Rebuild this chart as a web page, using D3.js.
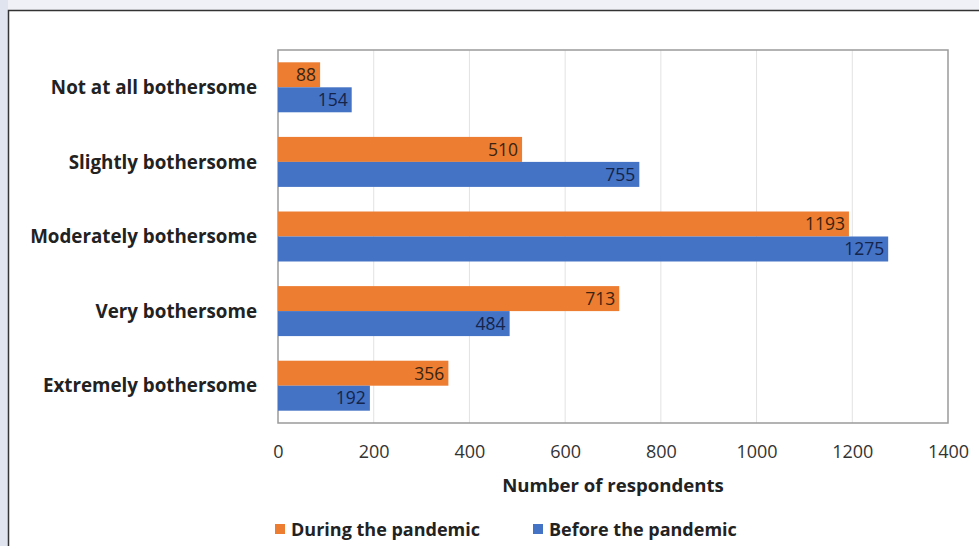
<!DOCTYPE html>
<html>
<head>
<meta charset="utf-8">
<script src="https://cdn.jsdelivr.net/npm/d3@7"></script>
<style>
  body { margin: 0; background: #eff1f6; }
  svg { display: block; }
</style>
</head>
<body>
<div id="chart"></div>
<script>
// data
const categories = ['Not at all bothersome', 'Slightly bothersome', 'Moderately bothersome', 'Very bothersome', 'Extremely bothersome'];
const duringValues = [88, 510, 1193, 713, 356];
const beforeValues = [154, 755, 1275, 484, 192];
const seriesNames = ['During the pandemic', 'Before the pandemic'];
const xTicks = [0, 200, 400, 600, 800, 1000, 1200, 1400];

const width = 979, height = 546;
const font = '"Open Sans", Lato, sans-serif';
const colors = ['#ED7D31', '#4472C4'];
const labelColors = ['#3b2412', '#14244a'];

const svg = d3.select('#chart')
    .append('svg')
    .attr('width', width)
    .attr('height', height);

// page frame
svg.append('rect').attr('x', 0).attr('y', 0).attr('width', 8).attr('height', height).attr('fill', '#e0e4ef');
svg.append('rect')
    .attr('x', 8.5).attr('y', 10.5)
    .attr('width', width + 10).attr('height', height + 10)
    .attr('fill', '#fff')
    .attr('stroke', '#333')
    .attr('stroke-width', 1.5);

const plot = { left: 278, right: 948, top: 50, bottom: 423 };

const x = d3.scaleLinear().domain([0, 1400]).range([plot.left, plot.right]);
const y = d3.scaleBand().domain(categories).range([plot.top, plot.bottom]).paddingInner(0.33).paddingOuter(0.165);
const ySub = d3.scaleBand().domain([0, 1]).range([0, y.bandwidth()]);

// gridlines
svg.append('g')
    .selectAll('line')
    .data(xTicks.slice(1, -1))
    .join('line')
    .attr('x1', d => x(d)).attr('x2', d => x(d))
    .attr('y1', plot.top).attr('y2', plot.bottom)
    .attr('stroke', '#e2e2e2')
    .attr('stroke-width', 1);

// plot border
svg.append('rect')
    .attr('x', plot.left).attr('y', plot.top)
    .attr('width', plot.right - plot.left).attr('height', plot.bottom - plot.top)
    .attr('fill', 'none')
    .attr('stroke', '#9a9a9a')
    .attr('stroke-width', 1.5);

const rows = categories.map((c, i) => ({ cat: c, vals: [duringValues[i], beforeValues[i]] }));

const groups = svg.append('g')
    .selectAll('g')
    .data(rows)
    .join('g')
    .attr('transform', d => `translate(0,${y(d.cat)})`);

groups.selectAll('rect')
    .data(d => d.vals.map((v, k) => ({ v, k })))
    .join('rect')
    .attr('x', x(0))
    .attr('y', d => ySub(d.k))
    .attr('width', d => x(d.v) - x(0))
    .attr('height', ySub.bandwidth())
    .attr('fill', d => colors[d.k]);

groups.selectAll('text')
    .data(d => d.vals.map((v, k) => ({ v, k })))
    .join('text')
    .attr('x', d => x(d.v) - 4)
    .attr('y', d => ySub(d.k) + ySub.bandwidth() / 2)
    .attr('dy', '0.36em')
    .attr('text-anchor', 'end')
    .attr('font-family', font)
    .attr('font-size', 17.5)
    .attr('fill', d => labelColors[d.k])
    .text(d => d.v);

// category labels
svg.append('g')
    .selectAll('text')
    .data(categories)
    .join('text')
    .attr('x', 257)
    .attr('y', d => y(d) + y.bandwidth() / 2)
    .attr('dy', '0.36em')
    .attr('text-anchor', 'end')
    .attr('font-family', font)
    .attr('font-weight', 'bold')
    .attr('font-size', 18.8)
    .attr('fill', '#222')
    .text(d => d);

// x axis tick labels
const xAxis = d3.axisBottom(x).tickValues(xTicks).tickSize(0).tickPadding(0).tickFormat(d3.format('d'));
const axisG = svg.append('g')
    .attr('transform', `translate(0,${plot.bottom + 35})`)
    .call(xAxis);
axisG.select('.domain').remove();
axisG.selectAll('text')
    .attr('font-family', font)
    .attr('font-size', 18)
    .attr('fill', '#333')
    .attr('dy', 0);

svg.append('text')
    .attr('x', (plot.left + plot.right) / 2)
    .attr('y', 492)
    .attr('text-anchor', 'middle')
    .attr('font-family', font)
    .attr('font-weight', 'bold')
    .attr('font-size', 18.6)
    .attr('fill', '#222')
    .text('Number of respondents');

// legend
const legendX = [275, 533];
const legend = svg.append('g')
    .selectAll('g')
    .data(seriesNames)
    .join('g')
    .attr('transform', (d, i) => `translate(${legendX[i]},530)`);
legend.append('rect')
    .attr('x', 0).attr('y', -6)
    .attr('width', 10).attr('height', 10)
    .attr('fill', (d, i) => colors[i]);
legend.append('text')
    .attr('x', 16)
    .attr('y', 0)
    .attr('dy', '0.36em')
    .attr('font-family', font)
    .attr('font-weight', 'bold')
    .attr('font-size', 18)
    .attr('fill', '#222')
    .text(d => d);
</script>
</body>
</html>
